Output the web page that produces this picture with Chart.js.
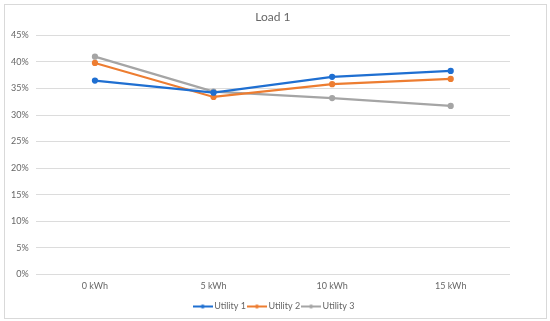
<!DOCTYPE html>
<html lang="en">
<head>
  <meta charset="UTF-8" />
  <title>Load 1</title>
  <style>
    body {
      margin: 0;
      background-color: white;
      overflow: hidden;
    }
    #wrap {
      position: relative;
      width: 550px;
      height: 321px;
    }
    #frame {
      position: absolute;
      left: 4px; top: 4px;
      width: 541px; height: 313px;
      border: 1px solid #d9d9d9;
      pointer-events: none;
    }
  </style>
</head>
<body>
  <div id="wrap">
    <canvas id="chart" width="550" height="321"></canvas>
    <div id="frame"></div>
  </div>

  <script src="https://cdn.jsdelivr.net/npm/chart.js"></script>
  <script>
    const categories = ['0 kWh', '5 kWh', '10 kWh', '15 kWh'];
    const utility1 = [0.365, 0.342, 0.372, 0.383];
    const utility2 = [0.398, 0.334, 0.358, 0.368];
    const utility3 = [0.410, 0.344, 0.332, 0.317];
    const seriesNames = ['Utility 1', 'Utility 2', 'Utility 3'];
    const colors = ['#1f6fd1', '#ed7d31', '#a5a5a5'];

    const FONT = 'Lato, "Open Sans", sans-serif';
    const GREY = '#666666';

    // small "line with dot" marker for the legend, like Excel
    function legendMarker(color) {
      const c = document.createElement('canvas');
      c.width = 20; c.height = 8;
      const g = c.getContext('2d');
      g.strokeStyle = color;
      g.lineWidth = 2;
      g.beginPath();
      g.moveTo(0, 4); g.lineTo(20, 4);
      g.stroke();
      g.fillStyle = color;
      g.beginPath();
      g.arc(10, 4, 2, 0, Math.PI * 2);
      g.fill();
      return c;
    }

    const allSeries = [utility1, utility2, utility3];
    const datasets = allSeries.map((vals, i) => ({
      label: seriesNames[i],
      data: vals,
      borderColor: colors[i],
      backgroundColor: colors[i],
      borderWidth: 2.25,
      pointRadius: 2,
      pointHoverRadius: 2,
      tension: 0,
      fill: false,
      pointStyle: 'circle'
    }));

    const ctx = document.getElementById('chart').getContext('2d');
    const chart = new Chart(ctx, {
      type: 'line',
      data: { labels: categories, datasets: datasets },
      options: {
        responsive: false,
        animation: false,
        layout: { padding: { left: 4, right: 4, top: 6, bottom: 0 } },
        plugins: {
          title: {
            display: true,
            fullSize: false,
            text: 'Load 1',
            color: GREY,
            font: { family: FONT, size: 12, weight: 'normal' },
            padding: { top: 4, bottom: 11 }
          },
          legend: {
            position: 'bottom',
            labels: {
              color: GREY,
              font: { family: FONT, size: 9 },
              usePointStyle: true,
              pointStyleWidth: 14,
              boxHeight: 8,
              padding: 4,
              generateLabels: (c) => c.data.datasets.map((d, i) => ({
                text: d.label,
                fontColor: GREY,
                pointStyle: legendMarker(colors[i]),
                datasetIndex: i,
                hidden: false,
                lineWidth: 0
              }))
            }
          },
          tooltip: { enabled: false }
        },
        scales: {
          x: {
            offset: true,
            grid: { display: false },
            border: { display: false },
            ticks: { color: GREY, font: { family: FONT, size: 9 }, padding: -2 },
            afterFit: (s) => { s.height += 9; }
          },
          y: {
            min: 0,
            max: 0.45,
            grid: { color: '#dcdcdc', drawTicks: false },
            border: { display: false },
            ticks: {
              stepSize: 0.05,
              color: GREY,
              font: { family: FONT, size: 9 },
              padding: 7,
              callback: (v) => Math.round(v * 100) + '%'
            }
          },
          // empty right-hand axis that only reserves the right margin
          yRight: {
            position: 'right',
            display: true,
            grid: { display: false },
            border: { display: false },
            ticks: { display: false },
            afterFit: (s) => { s.width = 36; }
          }
        }
      }
    });
  </script>
</body>
</html>
